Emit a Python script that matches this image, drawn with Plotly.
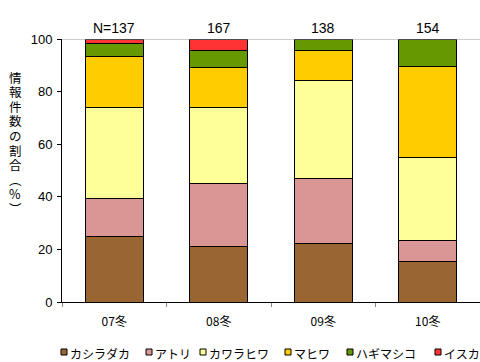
import plotly.graph_objects as go

categories = ["07冬", "08冬", "09冬", "10冬"]
n_labels = ["N=137", "167", "138", "154"]
series_names = ["カシラダカ", "アトリ", "カワラヒワ", "マヒワ", "ハギマシコ", "イスカ"]
kashiradaka = [24.8, 21.0, 22.4, 15.5]
atori = [14.5, 23.9, 24.6, 7.9]
kawarahiwa = [34.5, 28.9, 37.2, 31.6]
mahiwa = [19.7, 15.3, 11.5, 34.7]
hagimashiko = [4.8, 6.6, 4.3, 10.3]
isuka = [1.7, 4.3, 0.0, 0.0]
colors = ["#996633", "#DA9694", "#FFFF99", "#FFCC00", "#669900", "#FF3333"]
yaxis_title = "情報件数の割合︵%︶"

values = [kashiradaka, atori, kawarahiwa, mahiwa, hagimashiko, isuka]
font_fam = "Liberation Sans, Arial, Noto Sans CJK JP, sans-serif"
jp_font = "Noto Sans CJK JP, sans-serif"

W, H = 480, 362
ML, MR, MT, MB = 62, 0, 39, 60
PW, PH = W - ML - MR, H - MT - MB


def px_x(p):
    return (p - ML) / PW


def px_y(p):
    return (H - MB - p) / PH


fig = go.Figure()
for name, vals, col in zip(series_names, values, colors):
    fig.add_trace(go.Bar(
        x=categories, y=vals, name=name,
        marker=dict(color=col, line=dict(color="#000000", width=1)),
        width=0.555, showlegend=False,
    ))

for cat, lab in zip(categories, n_labels):
    fig.add_annotation(x=cat, y=100, xref="x", yref="y", text=lab,
                       showarrow=False, yanchor="bottom", yshift=1,
                       font=dict(size=14, color="#000000", family=font_fam))

# vertical y-axis title, one character per line
title_top, title_step = 77, 14.6
for i, ch in enumerate(yaxis_title):
    py = title_top + i * title_step
    fig.add_annotation(x=px_x(15), y=px_y(py), xref="paper", yref="paper",
                       text=ch, showarrow=False, xanchor="center", yanchor="middle",
                       font=dict(size=12.5, color="#000000", family=jp_font))

fig.add_shape(type="line", xref="paper", yref="y", x0=0, x1=1, y0=100, y1=100,
              line=dict(color="#9a9a9a", width=1))

# legend drawn as swatches + labels in one row
legend_x = [61, 146, 200, 285, 347, 435]
for name, col, lx in zip(series_names, colors, legend_x):
    fig.add_shape(type="rect", xref="paper", yref="paper",
                  x0=px_x(lx), x1=px_x(lx + 6), y0=px_y(355), y1=px_y(349),
                  fillcolor=col, line=dict(color="#000000", width=1))
    fig.add_annotation(x=px_x(lx + 6.5), y=px_y(353), xref="paper", yref="paper",
                       text=name, showarrow=False, xanchor="left", yanchor="middle",
                       font=dict(size=12, color="#000000", family=jp_font))

fig.update_layout(
    barmode="stack",
    width=W, height=H,
    margin=dict(l=ML, r=MR, t=MT, b=MB),
    paper_bgcolor="white", plot_bgcolor="white",
    font=dict(family=font_fam, size=12, color="#000000"),
    showlegend=False,
    xaxis=dict(showline=True, linecolor="#000000", linewidth=1,
               ticks="outside", ticklen=4, tickcolor="#888888", tickson="boundaries",
               ticklabelstandoff=9,
               tickfont=dict(size=12, family=jp_font),
               showgrid=False, zeroline=False),
    yaxis=dict(range=[0, 100], tickvals=[0, 20, 40, 60, 80, 100],
               showline=True, linecolor="#000000", linewidth=1,
               ticks="outside", ticklen=4, tickcolor="#000000",
               ticklabelstandoff=2,
               tickfont=dict(size=13), showgrid=False, zeroline=False),
)

fig.write_html("out.html")
